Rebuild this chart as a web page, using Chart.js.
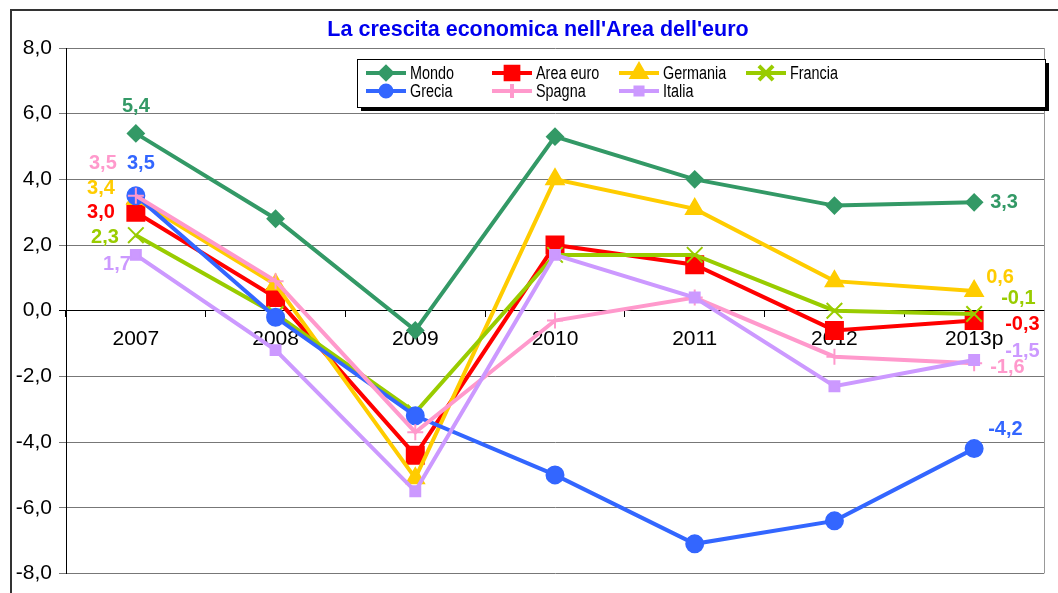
<!DOCTYPE html>
<html>
<head>
<meta charset="utf-8">
<script src="https://cdn.jsdelivr.net/npm/chart.js@4.4.1/dist/chart.umd.min.js"></script>
<style>
    html, body { margin: 0; padding: 0; background: #fff; }
    #wrap { width: 1058px; height: 593px; }
</style>
</head>
<body>
<div id="wrap"><canvas id="chart" width="1058" height="593"></canvas></div>
<script>
    'use strict';

    const years = ['2007', '2008', '2009', '2010', '2011', '2012', '2013p'];
    const mondo = [5.4, 2.8, -0.6, 5.3, 4.0, 3.2, 3.3];
    const areaEuro = [3.0, 0.4, -4.4, 2.0, 1.4, -0.6, -0.3];
    const germania = [3.4, 0.8, -5.1, 4.0, 3.1, 0.9, 0.6];
    const francia = [2.3, -0.1, -3.1, 1.7, 1.7, 0.0, -0.1];
    const grecia = [3.5, -0.2, -3.2, -5.0, -7.1, -6.4, -4.2];
    const spagna = [3.5, 0.9, -3.7, -0.3, 0.4, -1.4, -1.6];
    const italia = [1.7, -1.2, -5.5, 1.7, 0.4, -2.3, -1.5];

    const title = "La crescita economica nell'Area dell'euro";
    const yMin = -8;
    const yMax = 8;
    const yStep = 2;

    const fmt = v => v.toFixed(1).replace('.', ',');

    // label, data, colour, marker, radius in chart, radius in legend
    const series = [
        { label: 'Mondo', data: mondo, color: '#339966', style: 'rectRot', r: 8, lr: 6 },
        { label: 'Area euro', data: areaEuro, color: '#ff0000', style: 'rect', r: 12, lr: 9 },
        { label: 'Germania', data: germania, color: '#ffcc00', style: 'triangle', r: 10, lr: 8 },
        { label: 'Francia', data: francia, color: '#99cc00', style: 'crossRot', r: 11, lr: 10 },
        { label: 'Grecia', data: grecia, color: '#3366ff', style: 'circle', r: 8.5, lr: 5.5 },
        { label: 'Spagna', data: spagna, color: '#ff99cc', style: 'cross', r: 8, lr: 7 },
        { label: 'Italia', data: italia, color: '#cc99ff', style: 'rect', r: 7, lr: 5 }
    ];

    // value label offsets [dx, dy, align] for first and last year
    const firstLabelPos = [[0, -27, 'center'], [-21, 0, 'right'], [-21, -11, 'right'], [-17, 2, 'right'],
        [5, -32, 'center'], [-33, -32, 'center'], [-5, 10, 'right']];
    const lastLabelPos = [[16, 0, 'left'], [31, 4, 'left'], [12, -14, 'left'], [27, -15, 'left'],
        [14, -19, 'left'], [16, 4, 'left'], [31, -8, 'left']];

    const valueLabels = {
        id: 'valueLabels',
        afterDatasetsDraw(chart) {
            const ctx = chart.ctx;
            ctx.save();
            ctx.font = 'bold 20px "Liberation Sans", Arial, sans-serif';
            ctx.textBaseline = 'middle';
            series.forEach((s, i) => {
                const pts = chart.getDatasetMeta(i).data;
                const last = pts.length - 1;
                [[0, firstLabelPos[i]], [last, lastLabelPos[i]]].forEach(([idx, pos]) => {
                    ctx.fillStyle = s.color;
                    ctx.textAlign = pos[2];
                    ctx.fillText(fmt(s.data[idx]), pts[idx].x + pos[0], pts[idx].y + pos[1]);
                });
            });
            ctx.restore();
        }
    };

    const decor = {
        id: 'decor',
        beforeDraw(chart) {
            const ctx = chart.ctx;
            ctx.save();
            ctx.fillStyle = '#fff';
            ctx.fillRect(0, 0, chart.width, chart.height);
            ctx.restore();
        },
        afterDraw(chart) {
            const ctx = chart.ctx;
            const area = chart.chartArea;
            ctx.save();

            // outer frame
            ctx.strokeStyle = '#333';
            ctx.lineWidth = 2;
            ctx.beginPath();
            ctx.moveTo(11, chart.height);
            ctx.lineTo(11, 10);
            ctx.lineTo(chart.width, 10);
            ctx.stroke();
            ctx.strokeStyle = '#999';
            ctx.lineWidth = 1;
            ctx.beginPath();
            ctx.moveTo(area.right + 0.5, area.top);
            ctx.lineTo(area.right + 0.5, area.bottom);
            ctx.stroke();

            // title
            ctx.fillStyle = '#0000ee';
            ctx.font = 'bold 21.5px "Liberation Sans", Arial, sans-serif';
            ctx.textAlign = 'center';
            ctx.textBaseline = 'middle';
            ctx.fillText(title, 538, 30);

            // legend box
            const bx = 357, by = 59, bw = 688, bh = 48;
            ctx.fillStyle = '#000';
            ctx.fillRect(bx + 4, by + 4, bw, bh);
            ctx.fillStyle = '#fff';
            ctx.fillRect(bx, by, bw, bh);
            ctx.strokeStyle = '#000';
            ctx.lineWidth = 1;
            ctx.strokeRect(bx + 0.5, by + 0.5, bw, bh);

            const colX = [366, 492, 619, 746];
            const rowY = [73, 91];
            ctx.font = '18px "Liberation Sans", Arial, sans-serif';
            ctx.textAlign = 'left';
            series.forEach((s, i) => {
                const x = colX[i % 4];
                const y = rowY[Math.floor(i / 4)];
                ctx.strokeStyle = s.color;
                ctx.fillStyle = s.color;
                ctx.lineWidth = 4;
                ctx.beginPath();
                ctx.moveTo(x, y);
                ctx.lineTo(x + 40, y);
                ctx.stroke();
                Chart.helpers.drawPoint(ctx, {
                    pointStyle: s.style,
                    radius: s.lr,
                    rotation: 0,
                    borderWidth: 2
                }, x + 20, y);
                // condensed text like the original
                ctx.save();
                ctx.translate(x + 44, y + 1);
                ctx.scale(0.8, 1);
                ctx.fillStyle = '#000';
                ctx.fillText(s.label, 0, 0);
                ctx.restore();
            });
            ctx.restore();
        }
    };

    new Chart(document.getElementById('chart'), {
        type: 'line',
        data: {
            labels: years,
            datasets: series.map((s, i) => ({
                label: s.label,
                data: s.data,
                borderColor: s.color,
                backgroundColor: s.color,
                borderWidth: 4,
                pointStyle: s.style,
                pointRadius: s.r,
                pointHoverRadius: s.r,
                pointBorderWidth: 2,
                tension: 0,
                fill: false,
                order: series.length - i
            }))
        },
        options: {
            responsive: false,
            animation: false,
            layout: {
                padding: { left: 11, right: 3, top: 48, bottom: 19 }
            },
            plugins: {
                legend: { display: false },
                title: { display: false },
                tooltip: { enabled: false }
            },
            scales: {
                x: {
                    position: { y: 0 },
                    offset: true,
                    grid: {
                        offset: true,
                        drawOnChartArea: false,
                        drawTicks: true,
                        tickLength: 6,
                        color: '#000'
                    },
                    border: { color: '#000', width: 1 },
                    ticks: {
                        color: '#000',
                        padding: 10,
                        maxRotation: 0,
                        font: { family: '"Liberation Sans", Arial, sans-serif', size: 21 }
                    }
                },
                y: {
                    min: yMin,
                    max: yMax,
                    afterFit: scale => { scale.width = 55; },
                    grid: {
                        color: ctx => (ctx.tick && ctx.tick.value === 0 ? '#000' : '#777'),
                        tickLength: 7
                    },
                    border: { color: '#000', width: 1 },
                    ticks: {
                        stepSize: yStep,
                        padding: 7,
                        color: '#000',
                        font: { family: '"Liberation Sans", Arial, sans-serif', size: 21 },
                        callback: value => fmt(value)
                    }
                }
            }
        },
        plugins: [decor, valueLabels]
    });
</script>
</body>
</html>
